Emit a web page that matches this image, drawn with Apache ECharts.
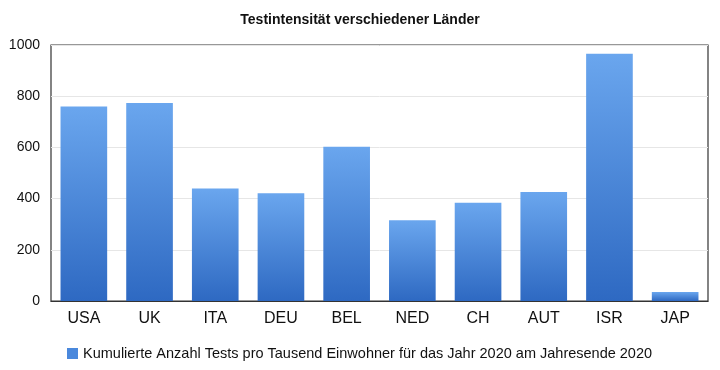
<!DOCTYPE html>
<html><head><meta charset="utf-8">
<script src="https://cdn.jsdelivr.net/npm/echarts@6/dist/echarts.min.js"></script>
<style>html,body{margin:0;padding:0;background:#fff}#c{width:720px;height:370px}</style>
</head><body><div id="c"></div>
<script>
const categories = ['USA','UK','ITA','DEU','BEL','NED','CH','AUT','ISR','JAP'];
const values = [760, 773, 439, 421, 603, 315, 384, 426, 966, 35];
const seriesName = 'Kumulierte Anzahl Tests pro Tausend Einwohner für das Jahr 2020 am Jahresende 2020';
const titleText = 'Testintensität verschiedener Länder';

const grad = new echarts.graphic.LinearGradient(0,0,0,1,[
  {offset:0,color:'#6aa6ee'},{offset:1,color:'#2e69c2'}]);
const chart = echarts.init(document.getElementById('c'), null, {renderer:'canvas'});
chart.setOption({
  animation:false,
  title:{text:titleText,left:'center',top:8,textStyle:{fontFamily:'Liberation Sans, Arial',fontSize:14,fontWeight:'bold',color:'#111'}},
  grid:{left:51,right:12,top:45,bottom:69,show:true,borderColor:'#333',borderWidth:1.2},
  legend:{left:62,top:341,itemWidth:11,itemHeight:11,itemGap:6,icon:'rect',
    textStyle:{fontFamily:'Liberation Sans, Arial',fontSize:14.5,color:'#111'},
    data:[{name:seriesName,itemStyle:{color:'#4a88dc'}}]},
  xAxis:{type:'category',data:categories,
    axisLine:{show:true,lineStyle:{color:'#333',width:1.2}},axisTick:{show:false},
    axisLabel:{fontFamily:'Liberation Sans, Arial',fontSize:16,color:'#111',margin:10}},
  yAxis:{type:'value',min:0,max:1000,interval:200,
    axisLine:{show:false},axisTick:{show:false},
    splitLine:{lineStyle:{color:'#e6e6e6'}},
    axisLabel:{fontFamily:'Liberation Sans, Arial',fontSize:14,color:'#111',margin:11,formatter:v=>String(v)}},
  series:[{type:'bar',name:seriesName,data:values,barCategoryGap:'29%',
    itemStyle:{color:grad}}]
});
</script></body></html>
